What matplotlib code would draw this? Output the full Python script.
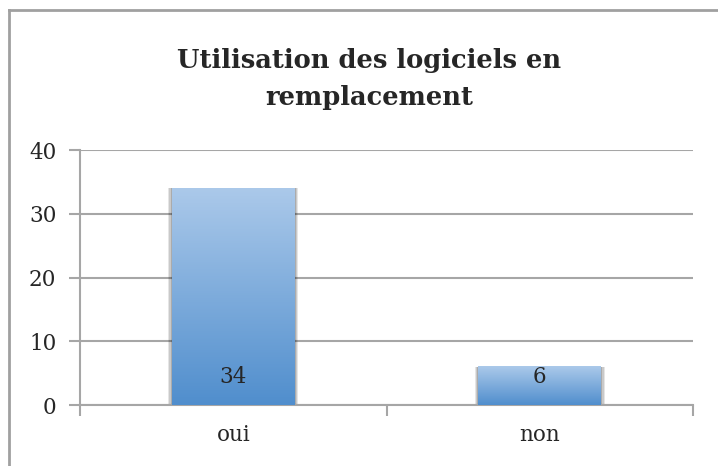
import matplotlib
matplotlib.use("Agg")
import matplotlib.pyplot as plt
import numpy as np
from matplotlib.lines import Line2D
from matplotlib.patches import Rectangle

categories = ["oui", "non"]
values = [34, 6]
yticks = [0, 10, 20, 30, 40]
title = "Utilisation des logiciels en\nremplacement"

grid_col = "#a6a6a6"
text_col = "#262626"
top_col = np.array([0xab, 0xc9, 0xea]) / 255
bot_col = np.array([0x50, 0x8e, 0xcd]) / 255

fig = plt.figure(figsize=(7.18, 4.66), dpi=100)
ax = fig.add_axes([80 / 718, 1 - 405 / 466, 613 / 718, 255 / 466])

# cadre du graphique (bords gauche et haut)
fig.add_artist(Line2D([9 / 718, 9 / 718], [0, 1 - 10 / 466], color="#a0a0a0", lw=2))
fig.add_artist(Line2D([9 / 718, 1], [1 - 10 / 466, 1 - 10 / 466], color="#a0a0a0", lw=2))

x = np.arange(len(categories))
width = 0.4
bars = ax.bar(x, values, width, color="none", zorder=3)

# degrade vertical + ombre
grad = np.linspace(0, 1, 256)[:, None, None]
img = bot_col * (1 - grad) + top_col * grad
for b in bars:
    x0, y0 = b.get_x(), b.get_y()
    w, h = b.get_width(), b.get_height()
    for k, a in enumerate([0.10, 0.12, 0.15]):
        off = (3 - k) * 0.004
        ax.add_patch(Rectangle((x0 - off, y0 - off * 40), w + 2 * off, h + off * 40,
                               color="black", alpha=a, lw=0, zorder=2))
    ax.imshow(img, extent=[x0, x0 + w, y0, y0 + h], origin="lower",
              aspect="auto", zorder=3)

for xi, v in zip(x, values):
    ax.annotate(str(v), xy=(xi, 0), xytext=(0, 20), textcoords="offset points",
                ha="center", va="center", fontsize=15.5, family="DejaVu Serif",
                color=text_col, zorder=5)

ax.set_xlim(-0.5, 1.5)
ax.set_ylim(0, 40)
ax.set_yticks(yticks)
ax.yaxis.grid(True, color=grid_col, lw=1.5)
ax.set_axisbelow(True)

ax.set_xticks(x)
ax.set_xticklabels(categories)
ax.set_xticks([-0.5, 0.5, 1.5], minor=True)
ax.tick_params(axis="x", which="major", length=0, pad=14)
ax.tick_params(axis="x", which="minor", length=8, width=1.5, color=grid_col)
ax.tick_params(axis="y", length=8, width=1.5, color=grid_col, pad=9)
for lab in ax.get_xticklabels() + ax.get_yticklabels():
    lab.set_family("DejaVu Serif")
    lab.set_fontsize(15.5)
    lab.set_color(text_col)

for s in ["top", "right"]:
    ax.spines[s].set_visible(False)
for s in ["left", "bottom"]:
    ax.spines[s].set_color(grid_col)
    ax.spines[s].set_linewidth(1.5)

fig.text(369 / 718, 1 - 79 / 466, title, ha="center", va="center",
         fontsize=18.5, fontweight="bold", family="DejaVu Serif",
         color=text_col, linespacing=1.6)

fig.savefig("out.png", dpi=100)
